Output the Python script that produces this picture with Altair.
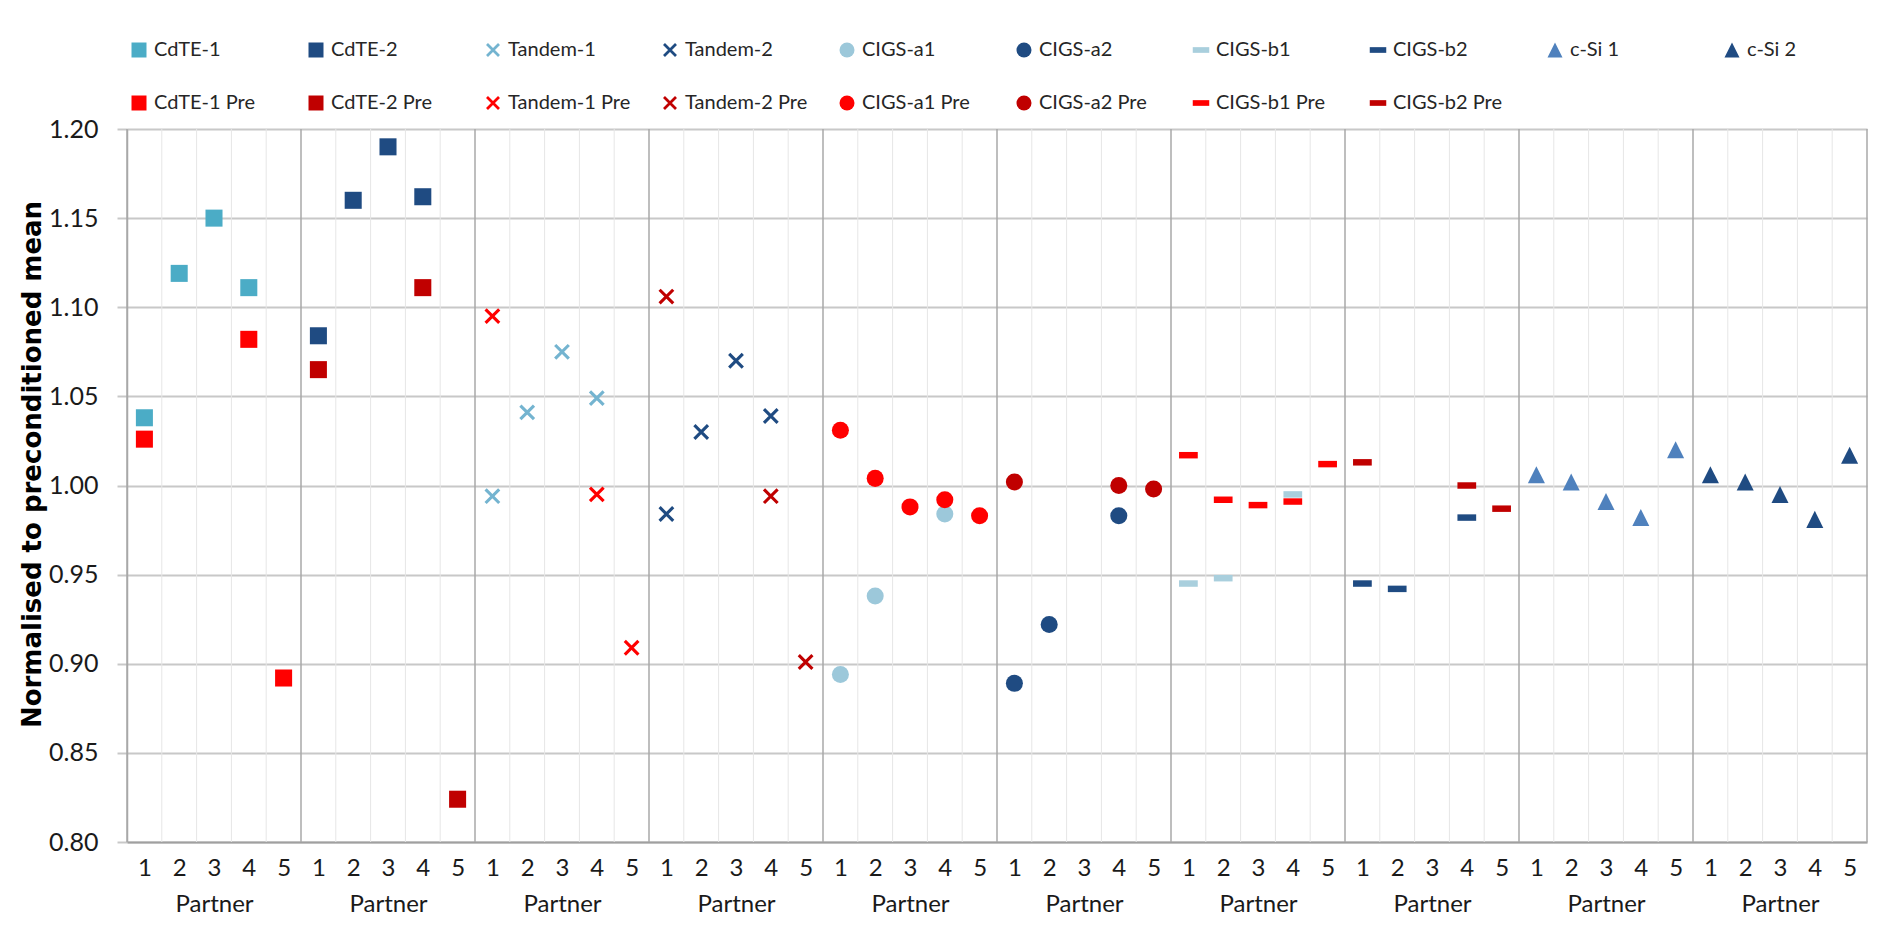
import altair as alt
import pandas as pd

# ---------------- data ----------------
groups = ["CdTE-1", "CdTE-2", "Tandem-1", "Tandem-2", "CIGS-a1",
          "CIGS-a2", "CIGS-b1", "CIGS-b2", "c-Si 1", "c-Si 2"]
partners = [1, 2, 3, 4, 5]

cdte1 = [1.038, 1.119, 1.150, 1.111, None]
cdte2 = [1.084, 1.160, 1.190, 1.162, None]
tandem1 = [0.994, 1.041, 1.075, 1.049, None]
tandem2 = [0.984, 1.030, 1.070, 1.039, None]
cigs_a1 = [0.894, 0.938, None, 0.984, None]
cigs_a2 = [0.889, 0.922, None, 0.983, None]
cigs_b1 = [0.945, 0.948, None, 0.995, None]
cigs_b2 = [0.945, 0.942, None, 0.982, None]
csi1 = [1.006, 1.002, 0.991, 0.982, 1.020]
csi2 = [1.006, 1.002, 0.995, 0.981, 1.017]

cdte1_pre = [1.026, None, None, 1.082, 0.892]
cdte2_pre = [1.065, None, None, 1.111, 0.824]
tandem1_pre = [1.095, None, None, 0.995, 0.909]
tandem2_pre = [1.106, None, None, 0.994, 0.901]
cigs_a1_pre = [1.031, 1.004, 0.988, 0.992, 0.983]
cigs_a2_pre = [1.002, None, None, 1.000, 0.998]
cigs_b1_pre = [1.017, 0.992, 0.989, 0.991, 1.012]
cigs_b2_pre = [1.013, None, None, 1.000, 0.987]

series_names = ["CdTE-1", "CdTE-2", "Tandem-1", "Tandem-2", "CIGS-a1", "CIGS-a2",
                "CIGS-b1", "CIGS-b2", "c-Si 1", "c-Si 2",
                "CdTE-1 Pre", "CdTE-2 Pre", "Tandem-1 Pre", "Tandem-2 Pre",
                "CIGS-a1 Pre", "CIGS-a2 Pre", "CIGS-b1 Pre", "CIGS-b2 Pre"]
series_values = [cdte1, cdte2, tandem1, tandem2, cigs_a1, cigs_a2, cigs_b1, cigs_b2, csi1, csi2,
                 cdte1_pre, cdte2_pre, tandem1_pre, tandem2_pre,
                 cigs_a1_pre, cigs_a2_pre, cigs_b1_pre, cigs_b2_pre]
series_group = [0, 1, 2, 3, 4, 5, 6, 7, 8, 9, 0, 1, 2, 3, 4, 5, 6, 7]

y_ticks = [0.80, 0.85, 0.90, 0.95, 1.00, 1.05, 1.10, 1.15, 1.20]

# ---------------- styles ----------------
DARK = "#1F4B82"
RED = "#FF0000"
DRED = "#C00000"
series_colors = ["#4BACC6", DARK, "#74B4D0", DARK, "#9CC8DA", DARK, "#A9CFDD", DARK, "#4F81BD", DARK,
                 RED, DRED, RED, DRED, RED, DRED, RED, DRED]

SQ = "square"
XS = "M-0.93,-0.67L0.67,0.93L0.93,0.67L-0.67,-0.93ZM-0.67,0.93L0.93,-0.67L0.67,-0.93L-0.93,0.67Z"
CI = "circle"
DA = "M-1.1,-0.38L1.1,-0.38L1.1,0.38L-1.1,0.38Z"
TR = "M0,-1L1,1L-1,1Z"
series_shapes = [SQ, SQ, XS, XS, CI, CI, DA, DA, TR, TR,
                 SQ, SQ, XS, XS, CI, CI, DA, DA]

# ---------------- table ----------------
rows = []
for name, vals, g in zip(series_names, series_values, series_group):
    for p, v in zip(partners, vals):
        if v is not None:
            rows.append({"series": name, "pos": g * len(partners) + p - 0.5, "value": v})
df = pd.DataFrame(rows)

n_slots = len(groups) * len(partners)
minor_df = pd.DataFrame({"b": [i for i in range(n_slots + 1) if i % len(partners) != 0]})
major_df = pd.DataFrame({"b": [i for i in range(0, n_slots + 1, len(partners))]})
tick_pos = [i + 0.5 for i in range(n_slots)]

xscale = alt.Scale(domain=[0, n_slots], nice=False, zero=False)
x_axis = alt.Axis(values=tick_pos, title=None, grid=False, ticks=False,
                  domainColor="#A0A0A0", domainWidth=2,
                  labelExpr="(round(datum.value - 0.5) % 5) == 2 ? ['3', 'Partner'] : '' + (round(datum.value - 0.5) % 5 + 1)",
                  labelFont="Lato", labelFontSize=24, labelColor="#1A1A1A",
                  labelLineHeight=36, labelPadding=14, labelOverlap=False,
                  labelFlush=False, labelBound=False)

minor = alt.Chart(minor_df).mark_rule(color="#E6E6E6", strokeWidth=1).encode(
    x=alt.X("b:Q", scale=xscale, axis=x_axis))
major = alt.Chart(major_df).mark_rule(color="#A8A8A8", strokeWidth=1.5).encode(
    x=alt.X("b:Q", scale=xscale, axis=x_axis))

legend = alt.Legend(title=None, orient="none", legendX=2, legendY=-89, columns=10,
                    direction="horizontal", gridAlign="all", columnPadding=29, rowPadding=33,
                    symbolSize=225, labelFont="Lato", labelFontSize=20, labelColor="#262626",
                    labelOffset=5, padding=0, symbolStrokeWidth=0, labelLimit=300)

points = alt.Chart(df).mark_point(filled=True, size=290, opacity=1).encode(
    x=alt.X("pos:Q", scale=xscale, axis=x_axis),
    y=alt.Y("value:Q", scale=alt.Scale(domain=[0.80, 1.20], nice=False, zero=False),
            axis=alt.Axis(values=y_ticks, format=".2f", title="Normalised to preconditioned mean",
                          titleFont="DejaVu Sans", titleFontWeight="bold", titleFontSize=26,
                          titleColor="#000000", titlePadding=3, titleY=335,
                          labelFont="Lato", labelFontSize=25, labelColor="#1A1A1A", labelPadding=19,
                          grid=True, gridColor="#C8C8C8", gridWidth=2,
                          tickColor="#C8C8C8", tickWidth=2, tickSize=10,
                          domainColor="#A8A8A8", domainWidth=1.5)),
    color=alt.Color("series:N", scale=alt.Scale(domain=series_names, range=series_colors), legend=legend),
    shape=alt.Shape("series:N", scale=alt.Scale(domain=series_names, range=series_shapes), legend=legend),
)

chart = alt.layer(minor, major, points).properties(
    width=1740, height=713,
    autosize=alt.AutoSizeParams(type="none"),
    padding={"left": 127, "top": 129, "right": 12, "bottom": 92},
    background="white",
).configure_view(stroke=None)

chart.save("out.html", embed_options={"renderer": "svg", "actions": False})
